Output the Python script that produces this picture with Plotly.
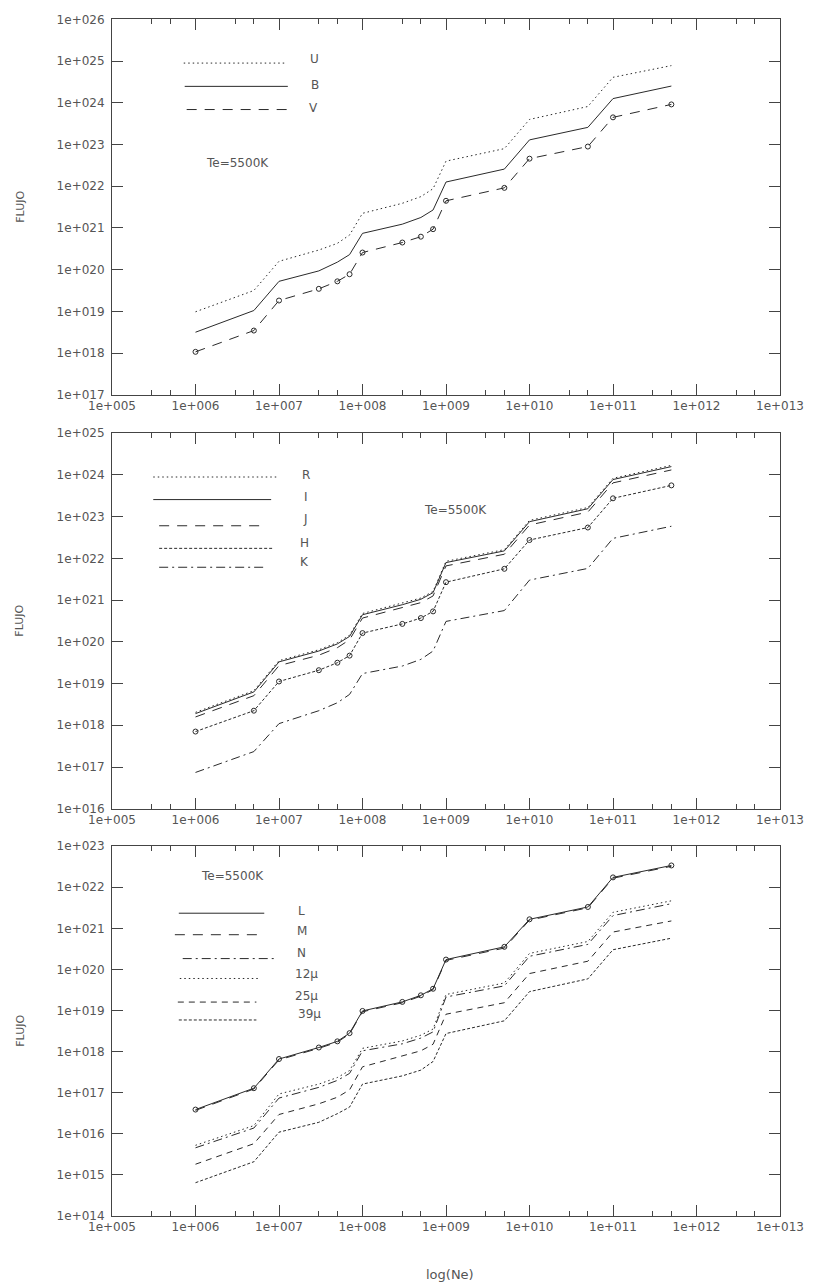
import plotly.graph_objects as go

# Electron density grid (cm^-3)
ne = [1e6, 5e6, 1e7, 3e7, 5e7, 7e7, 1e8, 3e8, 5e8, 7e8, 1e9, 5e9, 1e10, 5e10, 1e11, 5e11]

# log10 of the flux per band, Te = 5500 K
log_u = [18.99, 19.50, 20.20, 20.47, 20.63, 20.83, 21.35, 21.59, 21.75, 21.94, 22.60, 22.90, 23.60, 23.91, 24.61, 24.89]
log_b = [18.50, 19.02, 19.72, 19.97, 20.18, 20.36, 20.87, 21.09, 21.25, 21.43, 22.10, 22.41, 23.11, 23.41, 24.10, 24.40]
log_v = [18.03, 18.54, 19.26, 19.54, 19.72, 19.89, 20.41, 20.65, 20.79, 20.97, 21.65, 21.96, 22.66, 22.95, 23.65, 23.96]

log_r = [18.31, 18.83, 19.55, 19.81, 19.98, 20.16, 20.68, 20.92, 21.05, 21.21, 21.93, 22.21, 22.91, 23.22, 23.92, 24.23]
log_i = [18.28, 18.80, 19.52, 19.78, 19.95, 20.13, 20.65, 20.89, 21.02, 21.18, 21.90, 22.18, 22.88, 23.19, 23.89, 24.20]
log_j = [18.20, 18.71, 19.43, 19.68, 19.86, 20.05, 20.57, 20.81, 20.94, 21.10, 21.82, 22.10, 22.80, 23.11, 23.81, 24.12]
log_h = [17.85, 18.35, 19.05, 19.32, 19.50, 19.67, 20.21, 20.43, 20.57, 20.73, 21.43, 21.75, 22.44, 22.74, 23.44, 23.75]
log_k = [16.87, 17.37, 18.04, 18.35, 18.54, 18.74, 19.24, 19.42, 19.58, 19.78, 20.49, 20.75, 21.48, 21.76, 22.48, 22.77]

log_l = [16.59, 17.11, 17.82, 18.10, 18.25, 18.45, 18.99, 19.21, 19.37, 19.53, 20.24, 20.55, 21.22, 21.52, 22.24, 22.53]
log_m = [16.57, 17.09, 17.80, 18.08, 18.23, 18.43, 18.97, 19.19, 19.35, 19.51, 20.22, 20.52, 21.20, 21.50, 22.22, 22.51]
log_n = [15.66, 16.14, 16.87, 17.13, 17.30, 17.47, 18.02, 18.19, 18.33, 18.48, 19.33, 19.60, 20.32, 20.61, 21.31, 21.60]
log_12 = [15.72, 16.20, 16.97, 17.21, 17.37, 17.54, 18.08, 18.26, 18.40, 18.55, 19.39, 19.67, 20.39, 20.68, 21.39, 21.67]
log_25 = [15.26, 15.76, 16.47, 16.73, 16.89, 17.07, 17.63, 17.90, 18.02, 18.18, 18.91, 19.19, 19.90, 20.20, 20.91, 21.18]
log_39 = [14.81, 15.32, 16.04, 16.28, 16.49, 16.65, 17.21, 17.41, 17.55, 17.76, 18.44, 18.75, 19.46, 19.77, 20.48, 20.76]

x_exps = list(range(5, 14))
panel_y_exps = [(17, 26), (16, 25), (14, 23)]

W, H = 816, 1284
ML, MR, MT, MB = 112, 24, 13, 68
PW, PH = W - ML - MR, H - MT - MB
FONT = "DejaVu Sans"
INK = "#2a2a2a"
TXT = "#555555"


def fx(p):
    return (p - ML) / PW


def fy(p):
    return (H - MB - p) / PH


# panel frames in pixels (top, bottom)
frames = [(13.3, 390.7), (429.3, 806.7), (844.3, 1216.0)]

DOT = "1.5px,3px"
SOLID = "solid"
LDASH = "10px,8px"
MDASH = "6px,5px"
SDASH = "3px,2px"
DASHDOT = "9px,4px,2px,4px"

panels = [
    [("U", log_u, DOT, False), ("B", log_b, SOLID, False), ("V", log_v, LDASH, True)],
    [("R", log_r, DOT, False), ("I", log_i, SOLID, False), ("J", log_j, LDASH, False),
     ("H", log_h, SDASH, True), ("K", log_k, DASHDOT, False)],
    [("L", log_l, SOLID, True), ("M", log_m, LDASH, False), ("N", log_n, DASHDOT, False),
     ("12μ", log_12, DOT, False), ("25μ", log_25, MDASH, False), ("39μ", log_39, SDASH, False)],
]

# legend sample positions: (x0, x1, y_line, x_label, y_label) in pixels
legend_pos = [
    [(185, 290, 57.3, 318, 53.3), (186, 291, 80.7, 319, 79.3), (188, 293, 104, 317, 102.7)],
    [(154, 280, 473.3, 309, 471.7), (154, 274, 496, 309, 493.6), (160, 268, 522.3, 309, 516),
     (160, 275, 545, 308, 540), (160, 268, 564, 308, 559)],
    [(180, 267, 911.7, 305, 909), (176, 263, 933.3, 305, 930), (184, 277, 957.3, 305, 952),
     (181, 261, 977.3, 310, 972.7), (179, 259, 1001, 310, 995), (180, 259, 1019, 313, 1012.7)],
]
te_pos = [(240, 158), (462, 506), (235, 874.3)]

fig = go.Figure()
shapes, annotations = [], []

for k, series in enumerate(panels):
    xa = "x" if k == 0 else f"x{k + 1}"
    ya = "y" if k == 0 else f"y{k + 1}"
    for name, vals, dash, mark in series:
        fig.add_trace(go.Scatter(
            x=ne, y=[10.0 ** v for v in vals], xaxis=xa, yaxis=ya, name=name,
            mode="lines+markers" if mark else "lines",
            line=dict(color=INK, width=1, dash=dash),
            marker=dict(symbol="circle-open", size=5, color=INK, line=dict(width=1)),
            showlegend=False,
        ))
    for (name, vals, dash, mark), (x0, x1, yl, xt, yt) in zip(series, legend_pos[k]):
        shapes.append(dict(type="line", xref="paper", yref="paper",
                           x0=fx(x0), x1=fx(x1), y0=fy(yl), y1=fy(yl),
                           line=dict(color=INK, width=1, dash=dash)))
        annotations.append(dict(text=name, xref="paper", yref="paper", x=fx(xt), y=fy(yt),
                                xanchor="center", yanchor="middle", showarrow=False,
                                font=dict(family=FONT, size=12, color=TXT)))
    tx, ty = te_pos[k]
    annotations.append(dict(text="Te=5500K", xref="paper", yref="paper", x=fx(tx), y=fy(ty),
                            xanchor="center", yanchor="middle", showarrow=False,
                            font=dict(family=FONT, size=12, color=TXT)))
    top, bot = frames[k]
    annotations.append(dict(text="FLUJO", xref="paper", yref="paper", x=fx(18),
                            y=fy((top + bot) / 2), xanchor="center", yanchor="middle",
                            textangle=-90, showarrow=False,
                            font=dict(family=FONT, size=11, color=TXT)))

annotations.append(dict(text="log(Ne)", xref="paper", yref="paper", x=fx(456), y=fy(1275),
                        xanchor="center", yanchor="middle", showarrow=False,
                        font=dict(family=FONT, size=13, color=TXT)))

minor_x = [float(m) * 10.0 ** e for e in range(5, 13) for m in (3, 5)]

axis_common = dict(
    type="log", showline=True, linecolor="#444444", linewidth=1, mirror="ticks",
    ticks="inside", tickcolor="#444444", showgrid=False, zeroline=False,
    tickfont=dict(family=FONT, size=12, color=TXT),
)

layout = dict(
    width=W, height=H, margin=dict(l=ML, r=MR, t=MT, b=MB),
    paper_bgcolor="white", plot_bgcolor="white",
    shapes=shapes, annotations=annotations, showlegend=False,
)

for k in range(3):
    top, bot = frames[k]
    sfx = "" if k == 0 else str(k + 1)
    lo, hi = panel_y_exps[k]
    layout[f"xaxis{sfx}"] = dict(
        axis_common, domain=[0, 1], anchor=f"y{sfx}", range=[5, 13],
        tickmode="array", tickvals=[10.0 ** e for e in x_exps],
        ticktext=[f"1e+{e:03d}" for e in x_exps], ticklen=11,
        ticklabelstandoff=0,
        minor=dict(tickmode="array", tickvals=minor_x, ticks="inside", ticklen=5,
                   tickcolor="#444444", showgrid=False),
    )
    layout[f"yaxis{sfx}"] = dict(
        axis_common, domain=[fy(bot), fy(top)], anchor=f"x{sfx}", range=[lo, hi],
        tickmode="array", tickvals=[10.0 ** e for e in range(lo, hi + 1)],
        ticktext=[f"1e+{e:03d}" for e in range(lo, hi + 1)], ticklen=11,
        ticklabelstandoff=4,
    )

fig.update_layout(layout)
fig.write_html("out.html")
